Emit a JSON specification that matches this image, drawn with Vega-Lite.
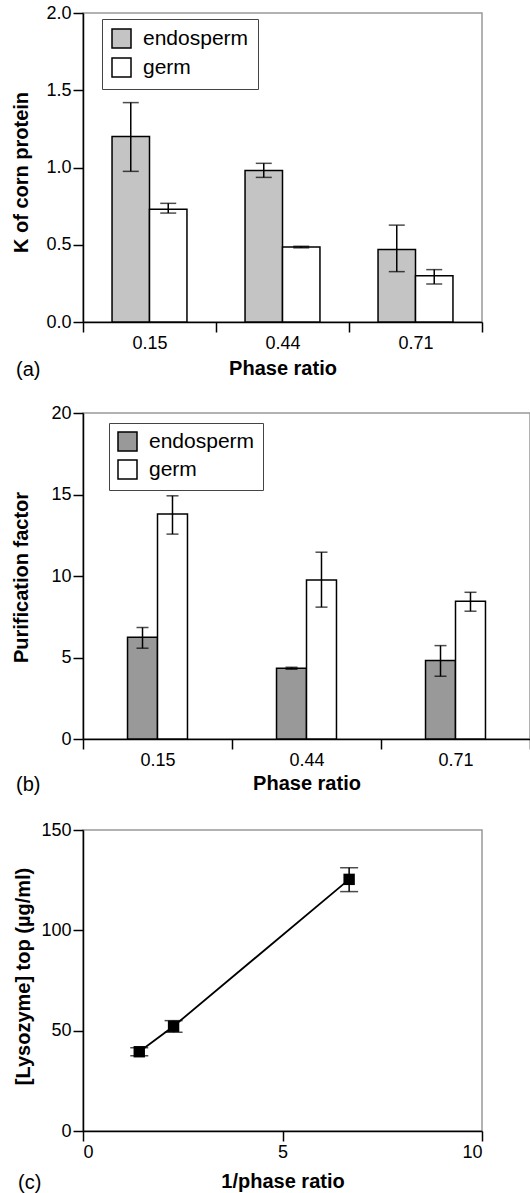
{
  "$schema": "https://vega.github.io/schema/vega-lite/v6.json",
  "padding": {"left": 10, "top": 3, "right": 0, "bottom": 0},
  "spacing": 91,
  "bounds": "flush",
  "config": {
    "font": "Liberation Sans",
    "view": {"stroke": "#999999", "strokeWidth": 1.5},
    "axis": {
      "domainColor": "black", "domainWidth": 1.5,
      "tickColor": "black", "tickWidth": 1.5, "tickSize": 10,
      "labelFontSize": 18, "labelColor": "black", "labelFont": "Liberation Sans", "labelPadding": 2,
      "titleFontSize": 20, "titleFont": "Liberation Sans", "titleFontWeight": "bold", "titleColor": "black",
      "grid": false, "zindex": 1
    },
    "legend": {
      "title": null, "orient": "none",
      "symbolType": "square", "symbolSize": 361, "symbolStrokeColor": "black", "symbolStrokeWidth": 1.5,
      "labelFontSize": 21, "labelFont": "Liberation Sans", "labelColor": "black", "labelOffset": 11,
      "rowPadding": 4, "padding": 9, "strokeColor": "#444444", "fillColor": "white"
    },
    "title": {"fontSize": 20, "fontWeight": "normal", "font": "Liberation Sans", "color": "black", "orient": "bottom", "anchor": "start", "frame": "bounds", "offset": 0}
  },
  "datasets": {
    "k": [
      {"phase": "0.15", "tissue": "endosperm", "value": 1.2, "lo": 0.975, "hi": 1.42},
      {"phase": "0.15", "tissue": "germ", "value": 0.73, "lo": 0.705, "hi": 0.768},
      {"phase": "0.44", "tissue": "endosperm", "value": 0.98, "lo": 0.936, "hi": 1.027},
      {"phase": "0.44", "tissue": "germ", "value": 0.485, "lo": 0.48, "hi": 0.49},
      {"phase": "0.71", "tissue": "endosperm", "value": 0.47, "lo": 0.326, "hi": 0.627},
      {"phase": "0.71", "tissue": "germ", "value": 0.3, "lo": 0.246, "hi": 0.339}
    ],
    "pf": [
      {"phase": "0.15", "tissue": "endosperm", "value": 6.24, "lo": 5.57, "hi": 6.84},
      {"phase": "0.15", "tissue": "germ", "value": 13.8, "lo": 12.57, "hi": 14.92},
      {"phase": "0.44", "tissue": "endosperm", "value": 4.34, "lo": 4.28, "hi": 4.4},
      {"phase": "0.44", "tissue": "germ", "value": 9.76, "lo": 8.09, "hi": 11.46},
      {"phase": "0.71", "tissue": "endosperm", "value": 4.81, "lo": 3.85, "hi": 5.73},
      {"phase": "0.71", "tissue": "germ", "value": 8.45, "lo": 7.84, "hi": 9.0}
    ],
    "lys": [
      {"inv": 1.41, "conc": 39.5, "lo": 37.5, "hi": 41.5},
      {"inv": 2.27, "conc": 52.2, "lo": 49.2, "hi": 55.0},
      {"inv": 6.67, "conc": 125.4, "lo": 119.3, "hi": 131.2}
    ]
  },
  "vconcat": [
    {
      "width": 399, "height": 309,
      "title": {"text": "(a)", "dx": 5, "dy": -22},
      "data": {"name": "k"},
      "layer": [
        {
          "mark": {"type": "bar", "stroke": "black", "strokeWidth": 1.5},
          "encoding": {
            "x": {"field": "phase", "type": "nominal", "scale": {"paddingInner": 0, "paddingOuter": 0},
                  "axis": {"title": "Phase ratio", "labelAngle": 0, "tickBand": "extent", "titlePadding": 6}},
            "xOffset": {"field": "tissue", "type": "nominal", "sort": ["endosperm", "germ"], "scale": {"paddingInner": 0, "paddingOuter": 0.775}},
            "y": {"field": "value", "type": "quantitative", "scale": {"domain": [0, 2], "nice": false},
                  "axis": {"title": "K of corn protein", "values": [0, 0.5, 1, 1.5, 2], "format": ".1f", "titleX": -52, "titleY": 159}},
            "fill": {"field": "tissue", "type": "nominal",
                     "scale": {"domain": ["endosperm", "germ"], "range": ["#c4c4c4", "#ffffff"]},
                     "legend": {"legendX": 19, "legendY": 6}}
          }
        },
        {
          "mark": {"type": "rule", "color": "black", "strokeWidth": 1.5},
          "encoding": {
            "x": {"field": "phase", "type": "nominal"},
            "xOffset": {"field": "tissue", "type": "nominal", "sort": ["endosperm", "germ"]},
            "y": {"field": "lo", "type": "quantitative"},
            "y2": {"field": "hi"}
          }
        },
        {
          "mark": {"type": "tick", "color": "black", "thickness": 1.5, "size": 16, "orient": "horizontal"},
          "encoding": {
            "x": {"field": "phase", "type": "nominal"},
            "xOffset": {"field": "tissue", "type": "nominal", "sort": ["endosperm", "germ"]},
            "y": {"field": "lo", "type": "quantitative"}
          }
        },
        {
          "mark": {"type": "tick", "color": "black", "thickness": 1.5, "size": 16, "orient": "horizontal"},
          "encoding": {
            "x": {"field": "phase", "type": "nominal"},
            "xOffset": {"field": "tissue", "type": "nominal", "sort": ["endosperm", "germ"]},
            "y": {"field": "hi", "type": "quantitative"}
          }
        }
      ]
    },
    {
      "width": 447, "height": 326,
      "title": {"text": "(b)", "dx": 5, "dy": -22},
      "data": {"name": "pf"},
      "layer": [
        {
          "mark": {"type": "bar", "stroke": "black", "strokeWidth": 1.5},
          "encoding": {
            "x": {"field": "phase", "type": "nominal", "scale": {"paddingInner": 0, "paddingOuter": 0},
                  "axis": {"title": "Phase ratio", "labelAngle": 0, "tickBand": "extent", "titlePadding": 4}},
            "xOffset": {"field": "tissue", "type": "nominal", "scale": {"domain": ["_left", "endosperm", "germ", "_right"], "paddingInner": 0, "paddingOuter": 0.485}},
            "y": {"field": "value", "type": "quantitative", "scale": {"domain": [0, 20], "nice": false},
                  "axis": {"title": "Purification factor", "values": [0, 5, 10, 15, 20], "titleX": -52, "titleY": 164}},
            "fill": {"field": "tissue", "type": "nominal",
                     "scale": {"domain": ["endosperm", "germ"], "range": ["#999999", "#ffffff"]},
                     "legend": {"legendX": 26, "legendY": 10, "rowPadding": 3, "padding": 8}}
          }
        },
        {
          "mark": {"type": "rule", "color": "black", "strokeWidth": 1.5},
          "encoding": {
            "x": {"field": "phase", "type": "nominal"},
            "xOffset": {"field": "tissue", "type": "nominal"},
            "y": {"field": "lo", "type": "quantitative"},
            "y2": {"field": "hi"}
          }
        },
        {
          "mark": {"type": "tick", "color": "black", "thickness": 1.5, "size": 12, "orient": "horizontal"},
          "encoding": {
            "x": {"field": "phase", "type": "nominal"},
            "xOffset": {"field": "tissue", "type": "nominal"},
            "y": {"field": "lo", "type": "quantitative"}
          }
        },
        {
          "mark": {"type": "tick", "color": "black", "thickness": 1.5, "size": 12, "orient": "horizontal"},
          "encoding": {
            "x": {"field": "phase", "type": "nominal"},
            "xOffset": {"field": "tissue", "type": "nominal"},
            "y": {"field": "hi", "type": "quantitative"}
          }
        }
      ]
    },
    {
      "width": 399, "height": 301,
      "title": {"text": "(c)", "dx": 5, "dy": -22},
      "data": {"name": "lys"},
      "layer": [
        {
          "mark": {"type": "line", "color": "black", "strokeWidth": 1.8},
          "encoding": {
            "x": {"field": "inv", "type": "quantitative", "scale": {"domain": [0, 10], "nice": false},
                  "axis": {"title": "1/phase ratio", "values": [0, 5, 10], "titlePadding": 10}},
            "y": {"field": "conc", "type": "quantitative", "scale": {"domain": [0, 150], "nice": false},
                  "axis": {"title": "[Lysozyme] top (µg/ml)", "values": [0, 50, 100, 150], "titleX": -50, "titleY": 146}}
          }
        },
        {
          "mark": {"type": "rule", "color": "black", "strokeWidth": 1.5},
          "encoding": {
            "x": {"field": "inv", "type": "quantitative"},
            "y": {"field": "lo", "type": "quantitative"},
            "y2": {"field": "hi"}
          }
        },
        {
          "mark": {"type": "tick", "color": "black", "thickness": 1.5, "size": 18, "orient": "horizontal"},
          "encoding": {
            "x": {"field": "inv", "type": "quantitative"},
            "y": {"field": "lo", "type": "quantitative"}
          }
        },
        {
          "mark": {"type": "tick", "color": "black", "thickness": 1.5, "size": 18, "orient": "horizontal"},
          "encoding": {
            "x": {"field": "inv", "type": "quantitative"},
            "y": {"field": "hi", "type": "quantitative"}
          }
        },
        {
          "mark": {"type": "point", "shape": "square", "filled": true, "color": "black", "size": 130, "opacity": 1},
          "encoding": {
            "x": {"field": "inv", "type": "quantitative"},
            "y": {"field": "conc", "type": "quantitative"}
          }
        }
      ]
    }
  ],
  "resolve": {
    "scale": {"fill": "independent", "xOffset": "independent", "x": "independent", "y": "independent"},
    "legend": {"fill": "independent"}
  }
}
